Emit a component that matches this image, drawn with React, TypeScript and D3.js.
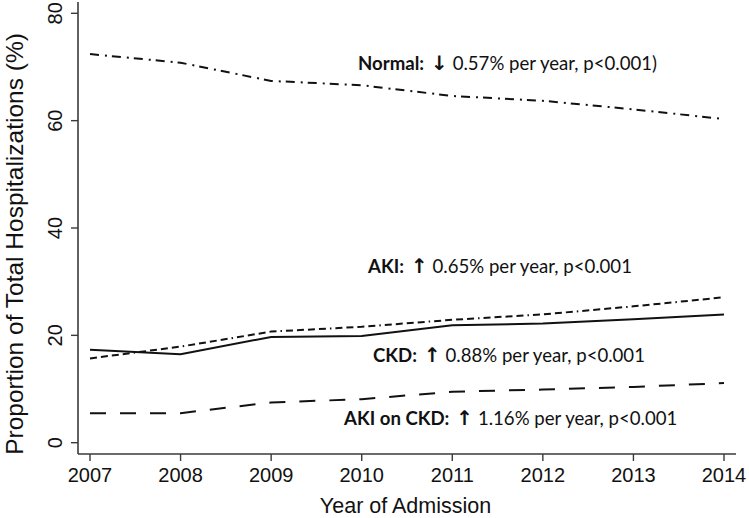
import React from "react";
import * as d3 from "d3";

const years = [2007, 2008, 2009, 2010, 2011, 2012, 2013, 2014];
const normalValues = [72.4, 70.8, 67.4, 66.6, 64.6, 63.7, 62.1, 60.3];
const akiValues = [15.7, 17.9, 20.7, 21.6, 22.9, 23.9, 25.4, 27.1];
const ckdValues = [17.3, 16.5, 19.7, 19.9, 21.9, 22.2, 23.0, 23.9];
const akiOnCkdValues = [5.5, 5.5, 7.5, 8.1, 9.5, 9.9, 10.4, 11.1];
const yTicks = [0, 20, 40, 60, 80];

const annotations = [
  { bold: "Normal:", arrow: "\u2193", rest: " 0.57% per year, p<0.001)", year: 2009.96, value: 69.5 },
  { bold: "AKI:", arrow: "\u2191", rest: " 0.65% per year, p<0.001", year: 2010.07, value: 31.6 },
  { bold: "CKD:", arrow: "\u2191", rest: " 0.88% per year, p<0.001", year: 2010.125, value: 15.1 },
  { bold: "AKI on CKD:", arrow: "\u2191", rest: " 1.16% per year, p<0.001", year: 2009.805, value: 3.3 },
];

export default function App() {
  const W = 749;
  const H = 518;
  const x = d3.scaleLinear().domain([2007, 2014]).range([90, 724]);
  const y = d3.scaleLinear().domain([0, 80]).range([442.7, 13.3]);
  const xMin = x.invert(78);
  const xMax = x.invert(736);
  const yMin = y.invert(454);
  const yMax = y.invert(2);

  const line = d3
    .line<number>()
    .x((_, i) => x(years[i]))
    .y((d) => y(d));

  const series = [
    { values: normalValues, dash: "9,6,2,5" },
    { values: akiValues, dash: "7,4,7,4,7,4,7,4,1.5,4" },
    { values: ckdValues, dash: "none" },
    { values: akiOnCkdValues, dash: "16,14" },
  ];

  const axisColor = "#3a3a3a";
  const font = "'Liberation Sans', Arial, Helvetica, sans-serif";

  return (
    <svg
      width={W}
      height={H}
      style={{ position: "absolute", left: 0, top: 0, background: "#fff" }}
    >
      <rect x={0} y={0} width={W} height={H} fill="#fff" />
      {/* axes */}
      <line x1={x(xMin)} x2={x(xMin)} y1={y(yMax)} y2={y(yMin)} stroke={axisColor} strokeWidth={1.6} />
      <line x1={x(xMin)} x2={x(xMax)} y1={y(yMin)} y2={y(yMin)} stroke={axisColor} strokeWidth={1.6} />
      {yTicks.map((t) => (
        <g key={"yt" + t}>
          <line x1={x(xMin) - 7} x2={x(xMin)} y1={y(t)} y2={y(t)} stroke={axisColor} strokeWidth={1.4} />
          <text
            transform={`translate(62,${y(t)}) rotate(-90)`}
            textAnchor="middle"
            fontFamily={font}
            fontSize={20}
            fill="#111"
          >
            {t}
          </text>
        </g>
      ))}
      {years.map((yr) => (
        <g key={"xt" + yr}>
          <line x1={x(yr)} x2={x(yr)} y1={y(yMin)} y2={y(yMin) + 7} stroke={axisColor} strokeWidth={1.4} />
          <text x={x(yr)} y={482} textAnchor="middle" fontFamily={font} fontSize={20} fill="#111">
            {yr}
          </text>
        </g>
      ))}
      <text x={405.5} y={513} textAnchor="middle" fontFamily={font} fontSize={21.5} fill="#111">
        Year of Admission
      </text>
      <text
        transform="translate(23,244) rotate(-90)"
        textAnchor="middle"
        fontFamily={font}
        fontSize={24.5}
        fill="#111"
      >
        Proportion of Total Hospitalizations (%)
      </text>
      {/* lines */}
      {series.map((s, i) => (
        <path
          key={"s" + i}
          d={line(s.values) || ""}
          fill="none"
          stroke="#111"
          strokeWidth={2}
          strokeDasharray={s.dash}
        />
      ))}
      {/* annotations */}
      {annotations.map((a, i) => (
        <text
          key={"a" + i}
          x={x(a.year)}
          y={y(a.value)}
          fontFamily="Lato, 'Open Sans', sans-serif"
          fontSize={18.6}
          fill="#111"
        >
          <tspan fontWeight="bold">{a.bold}</tspan>
          <tspan fontWeight="bold" fontFamily="'DejaVu Sans', sans-serif" fontSize={20}>{" " + a.arrow}</tspan>
          <tspan>{a.rest}</tspan>
        </text>
      ))}
    </svg>
  );
}
